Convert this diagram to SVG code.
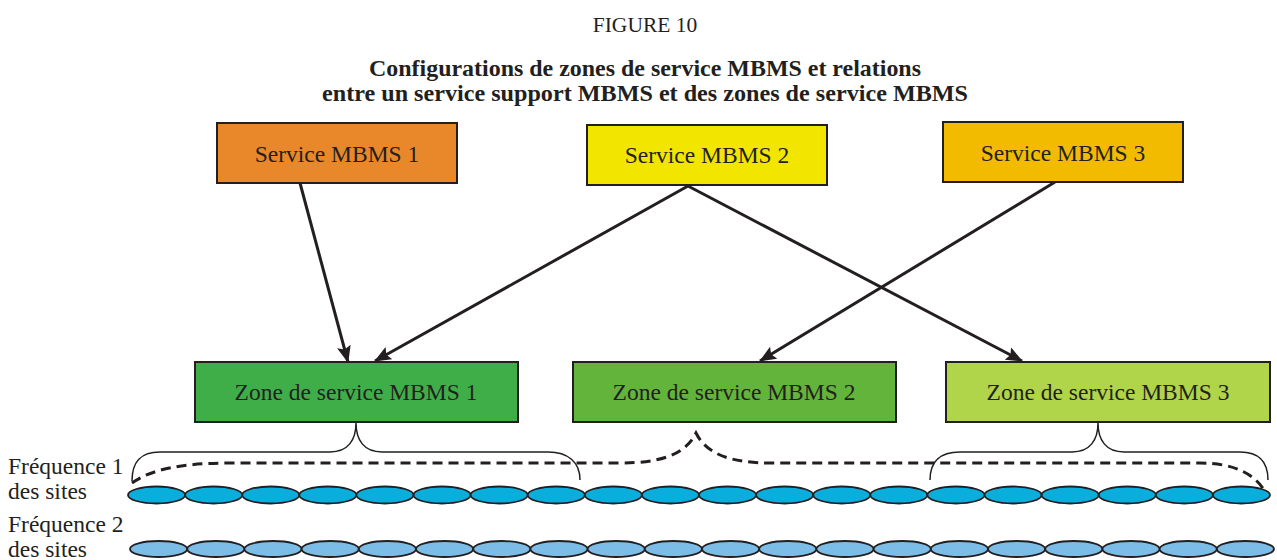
<svg xmlns="http://www.w3.org/2000/svg" width="1277" height="560" viewBox="0 0 1277 560">
<style>
text{font-family:"Liberation Serif","Times New Roman",serif;fill:#231f20}
.box{stroke:#231f20;stroke-width:2}
.lbl{font-size:23.5px;text-anchor:middle}
.side{font-size:23.5px}
.conn{stroke:#231f20;stroke-width:3;fill:none;marker-end:url(#ah)}
.brace{stroke:#231f20;stroke-width:1.5;fill:none}
.dash{stroke:#231f20;stroke-width:3;fill:none;stroke-dasharray:10 6}
.e1{fill:#0aaedc;stroke:#231f20;stroke-width:1.8}
.e2{fill:#7bbde6;stroke:#231f20;stroke-width:1.8}
</style>
<defs>
<marker id="ah" markerWidth="17" markerHeight="14" refX="16" refY="7" orient="auto" markerUnits="userSpaceOnUse">
<path d="M0,0 L17,7 L0,14 L3,7 Z" fill="#231f20"/>
</marker>
</defs>
<rect width="1277" height="560" fill="#fff"/>
<text x="645" y="32" font-size="21.5" text-anchor="middle">FIGURE 10</text>
<text x="645" y="76" font-size="24" font-weight="bold" text-anchor="middle" textLength="552" lengthAdjust="spacingAndGlyphs">Configurations de zones de service MBMS et relations</text>
<text x="645" y="101" font-size="24" font-weight="bold" text-anchor="middle" textLength="646" lengthAdjust="spacingAndGlyphs">entre un service support MBMS et des zones de service MBMS</text>

<g id="connectors">
<line class="conn" x1="300" y1="183" x2="348" y2="362"/>
<line class="conn" x1="688" y1="186" x2="375" y2="361"/>
<line class="conn" x1="688" y1="186" x2="1022" y2="361"/>
<line class="conn" x1="1055" y1="182" x2="760" y2="361"/>
</g>

<g id="svc1"><rect class="box" x="217" y="123" width="240" height="60" fill="#e8882a"/><text class="lbl" x="337" y="162">Service MBMS 1</text></g>
<g id="svc2"><rect class="box" x="587" y="125" width="240" height="60" fill="#f2e600"/><text class="lbl" x="707" y="163">Service MBMS 2</text></g>
<g id="svc3"><rect class="box" x="943" y="122" width="240" height="60" fill="#f2bb00"/><text class="lbl" x="1063" y="161">Service MBMS 3</text></g>

<g id="zone1"><rect class="box" x="195" y="362" width="323" height="60" fill="#3fae49"/><text class="lbl" x="356" y="400">Zone de service MBMS 1</text></g>
<g id="zone2"><rect class="box" x="573" y="362" width="323" height="60" fill="#62b43a"/><text class="lbl" x="734" y="400">Zone de service MBMS 2</text></g>
<g id="zone3"><rect class="box" x="946" y="362" width="324" height="60" fill="#b0d44a"/><text class="lbl" x="1108" y="400">Zone de service MBMS 3</text></g>

<g id="braces">
<path class="brace" d="M132,481 C132,462 140,452 160,452 L330,452 C348,452 356,440 356,423 C356,440 364,452 382,452 L548,452 C568,452 580,462 580,480"/>
<path class="brace" d="M930,480 C930,462 940,452 960,452 L1072,452 C1090,452 1098,440 1098,423 C1098,440 1106,452 1124,452 L1240,452 C1260,452 1268,462 1268,480"/>
<path class="dash" d="M132,483 C150,470 180,463 230,463 L620,463 C660,463 685,455 696,433 C707,455 732,463 772,463 L1200,463 C1235,463 1255,475 1264,490"/>
</g>

<g id="freq1">
<ellipse class="e1" cx="156.55" cy="495" rx="28.55" ry="8.5"/>
<ellipse class="e1" cx="213.65" cy="495" rx="28.55" ry="8.5"/>
<ellipse class="e1" cx="270.75" cy="495" rx="28.55" ry="8.5"/>
<ellipse class="e1" cx="327.85" cy="495" rx="28.55" ry="8.5"/>
<ellipse class="e1" cx="384.95" cy="495" rx="28.55" ry="8.5"/>
<ellipse class="e1" cx="442.05" cy="495" rx="28.55" ry="8.5"/>
<ellipse class="e1" cx="499.15" cy="495" rx="28.55" ry="8.5"/>
<ellipse class="e1" cx="556.25" cy="495" rx="28.55" ry="8.5"/>
<ellipse class="e1" cx="613.35" cy="495" rx="28.55" ry="8.5"/>
<ellipse class="e1" cx="670.45" cy="495" rx="28.55" ry="8.5"/>
<ellipse class="e1" cx="727.55" cy="495" rx="28.55" ry="8.5"/>
<ellipse class="e1" cx="784.65" cy="495" rx="28.55" ry="8.5"/>
<ellipse class="e1" cx="841.75" cy="495" rx="28.55" ry="8.5"/>
<ellipse class="e1" cx="898.85" cy="495" rx="28.55" ry="8.5"/>
<ellipse class="e1" cx="955.95" cy="495" rx="28.55" ry="8.5"/>
<ellipse class="e1" cx="1013.05" cy="495" rx="28.55" ry="8.5"/>
<ellipse class="e1" cx="1070.15" cy="495" rx="28.55" ry="8.5"/>
<ellipse class="e1" cx="1127.25" cy="495" rx="28.55" ry="8.5"/>
<ellipse class="e1" cx="1184.35" cy="495" rx="28.55" ry="8.5"/>
<ellipse class="e1" cx="1241.45" cy="495" rx="28.55" ry="8.5"/>
</g>
<g id="freq2">
<ellipse class="e2" cx="158.6" cy="549" rx="28.6" ry="8"/>
<ellipse class="e2" cx="215.8" cy="549" rx="28.6" ry="8"/>
<ellipse class="e2" cx="273.0" cy="549" rx="28.6" ry="8"/>
<ellipse class="e2" cx="330.2" cy="549" rx="28.6" ry="8"/>
<ellipse class="e2" cx="387.4" cy="549" rx="28.6" ry="8"/>
<ellipse class="e2" cx="444.6" cy="549" rx="28.6" ry="8"/>
<ellipse class="e2" cx="501.8" cy="549" rx="28.6" ry="8"/>
<ellipse class="e2" cx="559.0" cy="549" rx="28.6" ry="8"/>
<ellipse class="e2" cx="616.2" cy="549" rx="28.6" ry="8"/>
<ellipse class="e2" cx="673.4" cy="549" rx="28.6" ry="8"/>
<ellipse class="e2" cx="730.6" cy="549" rx="28.6" ry="8"/>
<ellipse class="e2" cx="787.8" cy="549" rx="28.6" ry="8"/>
<ellipse class="e2" cx="845.0" cy="549" rx="28.6" ry="8"/>
<ellipse class="e2" cx="902.2" cy="549" rx="28.6" ry="8"/>
<ellipse class="e2" cx="959.4" cy="549" rx="28.6" ry="8"/>
<ellipse class="e2" cx="1016.6" cy="549" rx="28.6" ry="8"/>
<ellipse class="e2" cx="1073.8" cy="549" rx="28.6" ry="8"/>
<ellipse class="e2" cx="1131.0" cy="549" rx="28.6" ry="8"/>
<ellipse class="e2" cx="1188.2" cy="549" rx="28.6" ry="8"/>
<ellipse class="e2" cx="1245.4" cy="549" rx="28.6" ry="8"/>
</g>

<g id="labels">
<text class="side" x="8" y="474">Fréquence 1</text>
<text class="side" x="8" y="499">des sites</text>
<text class="side" x="8" y="532">Fréquence 2</text>
<text class="side" x="8" y="557">des sites</text>
</g>
</svg>
